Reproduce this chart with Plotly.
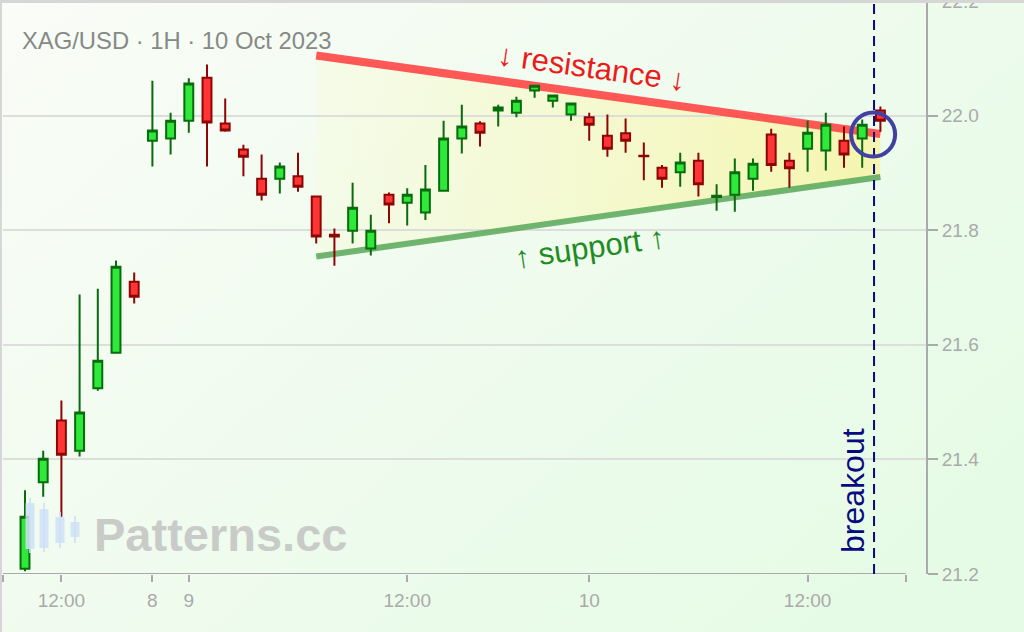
import base64
import plotly.graph_objects as go

# ---------------- data ----------------
IDX = list(range(48))
OPEN = [21.209, 21.360, 21.468, 21.415, 21.524, 21.586, 21.710, 21.956, 21.960, 21.991,
        22.066, 21.986, 21.941, 21.890, 21.890, 21.894, 21.859, 21.792, 21.799, 21.768,
        21.862, 21.848, 21.831, 21.869, 21.960, 21.986, 22.009, 22.005, 22.044, 22.026,
        22.002, 21.997, 21.965, 21.969, 21.930, 21.909, 21.901, 21.921, 21.858, 21.862,
        21.890, 21.967, 21.921, 21.942, 21.939, 21.956, 21.960, 22.009]
HIGH = [21.346, 21.415, 21.503, 21.688, 21.698, 21.747, 21.726, 22.061, 22.005, 22.065,
        22.089, 22.030, 21.949, 21.932, 21.918, 21.935, 21.860, 21.803, 21.883, 21.827,
        21.866, 21.873, 21.914, 21.991, 22.019, 21.990, 22.019, 22.033, 22.054, 22.037,
        22.023, 22.005, 22.002, 21.995, 21.953, 21.914, 21.935, 21.935, 21.880, 21.925,
        21.925, 21.977, 21.935, 21.991, 22.005, 21.981, 21.993, 22.016]
LOW = [21.205, 21.335, 21.300, 21.405, 21.520, 21.585, 21.672, 21.911, 21.932, 21.970,
       21.911, 21.972, 21.894, 21.852, 21.864, 21.867, 21.777, 21.738, 21.777, 21.756,
       21.812, 21.808, 21.818, 21.867, 21.934, 21.946, 21.981, 21.997, 22.031, 22.014,
       21.991, 21.956, 21.928, 21.935, 21.887, 21.874, 21.876, 21.859, 21.834, 21.832,
       21.869, 21.902, 21.874, 21.902, 21.904, 21.909, 21.909, 21.972]
CLOSE = [21.300, 21.401, 21.408, 21.482, 21.572, 21.736, 21.684, 21.974, 21.991, 22.056,
         21.988, 21.974, 21.928, 21.862, 21.911, 21.876, 21.789, 21.789, 21.839, 21.799,
         21.845, 21.862, 21.871, 21.960, 21.981, 21.970, 22.014, 22.026, 22.052, 22.035,
         22.021, 21.984, 21.942, 21.956, 21.929, 21.890, 21.918, 21.880, 21.860, 21.901,
         21.916, 21.914, 21.908, 21.970, 21.984, 21.932, 21.984, 21.991]

TICK_IDX = [2, 7, 9, 21, 31, 43]
TICK_TEXT = ["12:00", "8", "9", "12:00", "10", "12:00"]
Y_TICKS = [21.2, 21.4, 21.6, 21.8, 22.0, 22.2]

RES_X = [16, 47]
RES_Y = [22.105, 21.968]
SUP_X = [16, 47]
SUP_Y = [21.754, 21.893]

BREAKOUT_X = 46.65
CIRCLE_X = 46.6
CIRCLE_Y = 21.967

TITLE = "XAG/USD · 1H · 10 Oct 2023"

# ---------------- layout helpers ----------------
W, H = 1024, 632
ML, MR, MT, MB = 3, 98, 1, 58
PW, PH = W - ML - MR, H - MT - MB
X_RANGE = [-1.209, 49.505]
X_AXIS_END = 48.4
Y_RANGE = [21.2, 22.2]
FONT = "Liberation Sans, Arial, Helvetica, sans-serif"


def px(x):
    return (x - ML) / PW


def py(y):
    return (H - MB - y) / PH


def svg_uri(svg):
    return "data:image/svg+xml;base64," + base64.b64encode(svg.encode()).decode()


fig = go.Figure()

# candles
fig.add_trace(go.Candlestick(
    x=IDX, open=OPEN, high=HIGH, low=LOW, close=CLOSE,
    increasing=dict(fillcolor="#2fe83a", line=dict(color="#086b0c", width=2)),
    decreasing=dict(fillcolor="#ff3535", line=dict(color="#8c0606", width=2)),
    whiskerwidth=0, hoverinfo="skip", showlegend=False))

# triangle fill as a gradient image placed in data coordinates
tri_top = max(RES_Y[0], RES_Y[1])
tri_bot = min(SUP_Y[0], SUP_Y[1])
span = tri_top - tri_bot
pts = [(0, (tri_top - RES_Y[0]) / span), (1, (tri_top - RES_Y[1]) / span),
       (1, (tri_top - SUP_Y[1]) / span), (0, (tri_top - SUP_Y[0]) / span)]
poly = " ".join(f"{a * 1000:.2f},{b * 1000:.2f}" for a, b in pts)
tri_svg = ('<svg xmlns="http://www.w3.org/2000/svg" viewBox="0 0 1000 1000" '
           'preserveAspectRatio="none" width="1000" height="1000">'
           '<defs><linearGradient id="t" x1="0" y1="0" x2="1" y2="0">'
           '<stop offset="0" stop-color="#fff696" stop-opacity="0.10"/>'
           '<stop offset="1" stop-color="#fff078" stop-opacity="0.52"/>'
           '</linearGradient></defs>'
           f'<polygon points="{poly}" fill="url(#t)"/></svg>')

bg_svg = ('<svg xmlns="http://www.w3.org/2000/svg" width="1024" height="632">'
          '<defs><linearGradient id="g" x1="0" y1="0" x2="1" y2="0.7">'
          '<stop offset="0" stop-color="#fafcf7"/><stop offset="1" stop-color="#e6fbe6"/>'
          '</linearGradient></defs><rect width="1024" height="632" fill="url(#g)"/></svg>')

shapes = []
# trend lines (under the candles)
shapes.append(dict(type="line", xref="x", yref="y", x0=RES_X[0], x1=RES_X[1],
                   y0=RES_Y[0], y1=RES_Y[1], layer="between",
                   line=dict(color="rgba(255,70,70,0.9)", width=8)))
shapes.append(dict(type="line", xref="x", yref="y", x0=SUP_X[0], x1=SUP_X[1],
                   y0=SUP_Y[0], y1=SUP_Y[1], layer="between",
                   line=dict(color="rgba(96,172,96,0.9)", width=6)))
# x axis line (ends before the right axis)
shapes.append(dict(type="line", xref="x", yref="y", x0=X_RANGE[0], x1=X_AXIS_END,
                   y0=Y_RANGE[0], y1=Y_RANGE[0], line=dict(color="#aaaaaa", width=2)))
# breakout dashed line
shapes.append(dict(type="line", xref="x", yref="paper", x0=BREAKOUT_X, x1=BREAKOUT_X,
                   y0=0, y1=1, line=dict(color="#0a0a80", width=2, dash="10px,6px")))
# circle
shapes.append(dict(type="circle", xref="x", yref="y", xsizemode="pixel", ysizemode="pixel",
                   xanchor=CIRCLE_X, yanchor=CIRCLE_Y, x0=-22, x1=22, y0=-22, y1=22,
                   line=dict(color="#4141a2", width=4)))
# frame lines
shapes.append(dict(type="line", xref="paper", yref="paper", x0=px(1), x1=px(1),
                   y0=py(0), y1=py(H), line=dict(color="#d6d6d6", width=2)))
shapes.append(dict(type="line", xref="paper", yref="paper", x0=px(0), x1=px(W),
                   y0=py(1.5), y1=py(1.5), line=dict(color="#d6d6d6", width=3)))
# watermark icon candles
ICON = [(30, 498, 553, 503, 549), (44, 503, 552, 509, 548),
        (60, 512, 548, 517, 543), (75, 516, 543, 522, 537)]
for cx, wt, wb, bt, bb in ICON:
    shapes.append(dict(type="line", xref="paper", yref="paper", x0=px(cx), x1=px(cx),
                       y0=py(wt), y1=py(wb), line=dict(color="#cfe1f7", width=2), opacity=0.85))
    shapes.append(dict(type="rect", xref="paper", yref="paper", x0=px(cx - 4.5), x1=px(cx + 4.5),
                       y0=py(bt), y1=py(bb), line=dict(width=0), fillcolor="#cfe1f7", opacity=0.85))

annotations = [
    dict(text=TITLE, xref="paper", yref="paper", x=px(20), y=py(40), xanchor="left",
         yanchor="middle", showarrow=False, font=dict(family=FONT, size=23.8, color="#868a86")),
    dict(text="↓ resistance ↓", xref="x", yref="y", x=31.15, y=22.084, textangle=8,
         showarrow=False, font=dict(family=FONT, size=31, color="#ec1b1b")),
    dict(text="↑ support ↑", xref="x", yref="y", x=31.04, y=21.770, textangle=-8,
         showarrow=False, font=dict(family=FONT, size=31, color="#1e8c22")),
    dict(text="breakout", xref="x", yref="y", x=BREAKOUT_X, xshift=-21, y=21.345,
         textangle=-90, showarrow=False, font=dict(family=FONT, size=32, color="#0a0a80")),
    dict(text="<b>Patterns.cc</b>", xref="paper", yref="paper", x=px(92), y=py(534),
         xanchor="left", yanchor="middle", showarrow=False,
         font=dict(family=FONT, size=47, color="#c9cbc9")),
]

fig.update_layout(
    width=W, height=H,
    margin=dict(l=ML, r=MR, t=MT, b=MB, pad=0),
    paper_bgcolor="#eefbee", plot_bgcolor="rgba(0,0,0,0)",
    showlegend=False, hovermode=False,
    font=dict(family=FONT),
    images=[
        dict(source=svg_uri(bg_svg), xref="paper", yref="paper", x=px(0), y=py(0),
             sizex=W / PW, sizey=H / PH, xanchor="left", yanchor="top",
             sizing="stretch", layer="below"),
        dict(source=svg_uri(tri_svg), xref="x", yref="y", x=RES_X[0], y=tri_top,
             sizex=RES_X[1] - RES_X[0], sizey=span, xanchor="left", yanchor="top",
             sizing="stretch", layer="below"),
    ],
    shapes=shapes, annotations=annotations,
    xaxis=dict(range=X_RANGE, rangeslider=dict(visible=False), showgrid=False,
               zeroline=False, showline=False, automargin=False,
               tickvals=[X_RANGE[0]] + TICK_IDX + [X_AXIS_END],
               ticktext=[""] + TICK_TEXT + [""],
               ticks="outside", ticklen=7, tickwidth=2, tickcolor="#aaaaaa",
               ticklabelstandoff=2,
               tickfont=dict(family=FONT, size=19, color="#aaaaaa")),
    yaxis=dict(range=Y_RANGE, side="right", showgrid=True, gridcolor="#dcdedc", gridwidth=2,
               zeroline=False, showline=True, linecolor="#aaaaaa", linewidth=2,
               automargin=False,
               tickvals=Y_TICKS, tickformat=".1f", ticklabeloverflow="allow",
               ticks="outside", ticklen=10, tickwidth=2, tickcolor="#aaaaaa",
               tickfont=dict(family=FONT, size=19, color="#aaaaaa")),
)

fig.write_html("out.html", config={"displayModeBar": False},
               post_script="document.body.style.margin='0';document.body.style.overflow='hidden';")
